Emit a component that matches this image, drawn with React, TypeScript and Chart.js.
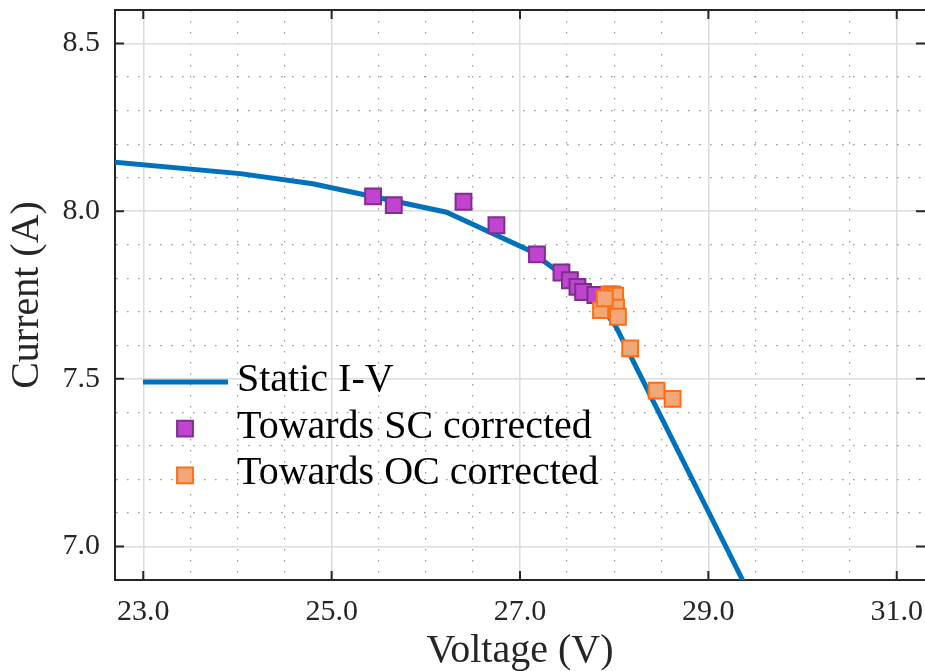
import React, { useEffect, useRef } from 'react';
import { Chart, registerables } from 'chart.js';

Chart.register(...registerables);

// ---------- data ----------
const ivVoltage = [22.7, 24.03, 24.8, 26.22, 27.1, 27.81, 28.02, 29.45];
const ivCurrent = [8.146, 8.112, 8.082, 7.997, 7.883, 7.735, 7.655, 6.851];

const scVoltage = [25.44, 25.66, 26.4, 26.75, 27.18, 27.44, 27.53, 27.61, 27.67, 27.8];
const scCurrent = [8.044, 8.018, 8.028, 7.958, 7.871, 7.817, 7.794, 7.774, 7.759, 7.75];

const ocVoltage = [27.95, 27.98, 28.01, 27.86, 28.02, 28.04, 27.9, 28.17, 28.45, 28.62];
const ocCurrent = [7.752, 7.752, 7.748, 7.705, 7.712, 7.685, 7.74, 7.591, 7.465, 7.44];

const seriesLabels = ['Static I-V', 'Towards SC corrected', 'Towards OC corrected'];

const xMajorTicks = [23, 25, 27, 29, 31];
const yMajorTicks = [7.0, 7.5, 8.0, 8.5];
const xMinorStep = 0.5;
const yMinorStep = 0.1;
const xRange = [22.7, 31.3];
const yRange = [6.9, 8.6];
const xTitle = 'Voltage (V)';
const yTitle = 'Current (A)';

// ---------- style ----------
const FONT = "'Liberation Serif', 'Times New Roman', serif";
const AXIS_COLOR = '#262626';
const MAJOR_GRID = '#dcdcdc';
const MINOR_GRID = 'rgba(110,110,110,0.7)';
const LINE_BLUE = '#0072BD';
const SC_FILL = 'rgb(191,68,207)';
const SC_EDGE = 'rgb(126,47,142)';
const OC_FILL = 'rgb(241,168,118)';
const OC_EDGE = 'rgb(255,110,20)';
const TICK_LEN = 9;

const near = (arr: number[], v: number) => arr.some((m) => Math.abs(m - v) < 1e-6);

const buildMinor = (lo: number, hi: number, step: number) => {
  const out: number[] = [];
  const n0 = Math.ceil(lo / step - 1e-9);
  const n1 = Math.floor(hi / step + 1e-9);
  for (let i = n0; i <= n1; i++) {
    const v = Math.round(i * step * 1000) / 1000;
    if (v > lo + 1e-9 && v < hi - 1e-9) out.push(v);
  }
  return out;
};

const frameTicks = {
  id: 'frameTicks',
  afterDraw(chart: any) {
    const { ctx, chartArea, scales } = chart;
    const { left, right, top, bottom } = chartArea;
    ctx.save();
    ctx.strokeStyle = AXIS_COLOR;
    ctx.lineWidth = 2;
    ctx.beginPath();
    ctx.moveTo(left - 1, top);
    ctx.lineTo(right + 1, top);
    xMajorTicks.forEach((v) => {
      const px = scales.x.getPixelForValue(v);
      ctx.moveTo(px, bottom);
      ctx.lineTo(px, bottom - TICK_LEN);
      ctx.moveTo(px, top);
      ctx.lineTo(px, top + TICK_LEN);
    });
    yMajorTicks.forEach((v) => {
      const py = scales.y.getPixelForValue(v);
      ctx.moveTo(left, py);
      ctx.lineTo(left + TICK_LEN, py);
      ctx.moveTo(right, py);
      ctx.lineTo(right - TICK_LEN, py);
    });
    ctx.stroke();
    ctx.restore();
  },
};

const innerLegend = {
  id: 'innerLegend',
  afterDraw(chart: any) {
    const { ctx, chartArea } = chart;
    const left = chartArea.left;
    const firstRow = chartArea.top + 372;
    const rowGap = 46.7;
    ctx.save();
    ctx.font = `40px ${FONT}`;
    ctx.textBaseline = 'alphabetic';
    chart.data.datasets.forEach((ds: any, i: number) => {
      const y = firstRow + i * rowGap;
      if (ds.type === 'line') {
        ctx.strokeStyle = ds.borderColor;
        ctx.lineWidth = ds.borderWidth;
        ctx.beginPath();
        ctx.moveTo(left + 28, y);
        ctx.lineTo(left + 113, y);
        ctx.stroke();
      } else {
        const half = ds.pointRadius * Math.SQRT1_2;
        ctx.fillStyle = ds.backgroundColor;
        ctx.strokeStyle = ds.borderColor;
        ctx.lineWidth = ds.borderWidth;
        ctx.beginPath();
        ctx.rect(left + 70 - half, y - half, half * 2, half * 2);
        ctx.fill();
        ctx.stroke();
      }
      ctx.fillStyle = '#000000';
      ctx.fillText(ds.label, left + 122, y + 9);
    });
    ctx.restore();
  },
};

export default function App() {
  const canvasRef = useRef<HTMLCanvasElement | null>(null);

  useEffect(() => {
    if (!canvasRef.current) return;
    const xTicks = buildMinor(xRange[0], xRange[1], xMinorStep);
    const yTicks = buildMinor(yRange[0], yRange[1], yMinorStep);

    const gridColor = (majors: number[]) => (c: any) =>
      c.tick && near(majors, c.tick.value) ? MAJOR_GRID : MINOR_GRID;
    const gridWidth = (majors: number[]) => (c: any) =>
      c.tick && near(majors, c.tick.value) ? 1.5 : 1.2;
    const gridDash = (majors: number[]) => (c: any) =>
      c.tick && !near(majors, c.tick.value) ? [1.6, 9.4] : [];

    const chart = new Chart(canvasRef.current, {
      type: 'scatter',
      data: {
        datasets: [
          {
            type: 'line',
            label: seriesLabels[0],
            data: ivVoltage.map((v, i) => ({ x: v, y: ivCurrent[i] })),
            borderColor: LINE_BLUE,
            backgroundColor: LINE_BLUE,
            borderWidth: 5,
            pointRadius: 0,
            showLine: true,
            tension: 0,
            order: 3,
          } as any,
          {
            type: 'scatter',
            label: seriesLabels[1],
            data: scVoltage.map((v, i) => ({ x: v, y: scCurrent[i] })),
            pointStyle: 'rect',
            pointRadius: 11.2,
            backgroundColor: SC_FILL,
            borderColor: SC_EDGE,
            borderWidth: 2,
            order: 2,
          } as any,
          {
            type: 'scatter',
            label: seriesLabels[2],
            data: ocVoltage.map((v, i) => ({ x: v, y: ocCurrent[i] })),
            pointStyle: 'rect',
            pointRadius: 11.2,
            backgroundColor: OC_FILL,
            borderColor: OC_EDGE,
            borderWidth: 2,
            order: 1,
          } as any,
        ],
      },
      options: {
        animation: false,
        responsive: false,
        layout: { autoPadding: false, padding: { top: 10, right: 0, left: 0, bottom: 0 } },
        plugins: {
          legend: { display: false },
          tooltip: { enabled: false },
        },
        scales: {
          x: {
            type: 'linear',
            min: xRange[0],
            max: xRange[1],
            afterBuildTicks: (s: any) => {
              s.ticks = xTicks.map((v) => ({ value: v }));
            },
            afterFit: (s: any) => {
              s.height = 91;
              s.paddingLeft = 0;
              s.paddingRight = 0;
              s.paddingTop = 0;
              s.paddingBottom = 0;
            },
            ticks: {
              autoSkip: false,
              maxRotation: 0,
              padding: 14,
              color: AXIS_COLOR,
              font: { family: FONT, size: 30 },
              callback: (v: any) => (near(xMajorTicks, Number(v)) ? Number(v).toFixed(1) : ''),
            },
            grid: {
              drawTicks: false,
              color: gridColor(xMajorTicks),
              lineWidth: gridWidth(xMajorTicks),
            },
            border: { display: true, color: AXIS_COLOR, width: 2, dash: gridDash(xMajorTicks) },
            title: {
              display: true,
              text: xTitle,
              color: AXIS_COLOR,
              font: { family: FONT, size: 40, lineHeight: 1 },
              padding: { top: 0, bottom: 0 },
            },
          },
          y: {
            type: 'linear',
            min: yRange[0],
            max: yRange[1],
            afterBuildTicks: (s: any) => {
              s.ticks = yTicks.map((v) => ({ value: v }));
            },
            afterFit: (s: any) => {
              s.width = 115;
              s.paddingLeft = 0;
              s.paddingRight = 0;
              s.paddingTop = 0;
              s.paddingBottom = 0;
            },
            ticks: {
              autoSkip: false,
              padding: 15,
              color: AXIS_COLOR,
              font: { family: FONT, size: 30 },
              callback: (v: any) => (near(yMajorTicks, Number(v)) ? Number(v).toFixed(1) : ''),
            },
            grid: {
              drawTicks: false,
              color: gridColor(yMajorTicks),
              lineWidth: gridWidth(yMajorTicks),
            },
            border: { display: true, color: AXIS_COLOR, width: 2, dash: gridDash(yMajorTicks) },
            title: {
              display: true,
              text: yTitle,
              color: AXIS_COLOR,
              font: { family: FONT, size: 40, lineHeight: 1 },
              padding: { top: 7, bottom: 0 },
            },
          },
        },
      } as any,
      plugins: [frameTicks, innerLegend],
    });
    return () => chart.destroy();
  }, []);

  return (
    <div style={{ position: 'fixed', left: 0, top: 0, width: 925, height: 671, background: '#ffffff' }}>
      <canvas ref={canvasRef} width={925} height={671} style={{ display: 'block' }} />
    </div>
  );
}
